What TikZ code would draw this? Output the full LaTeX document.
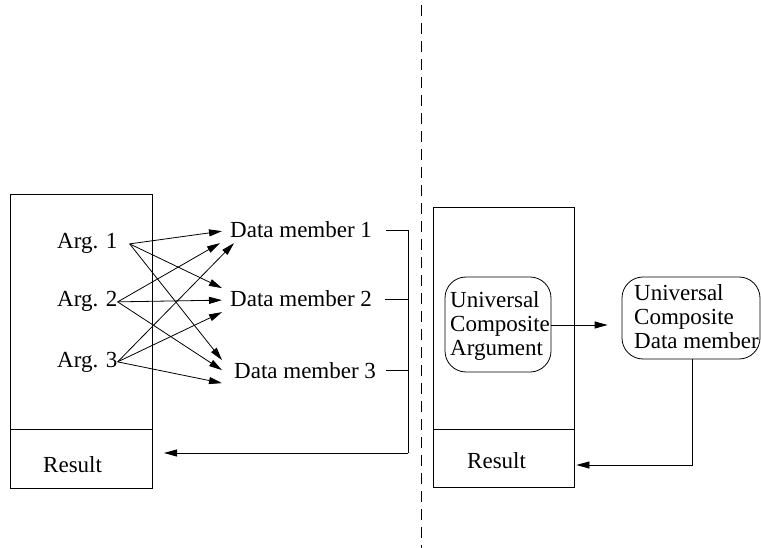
\documentclass[tikz,border=0pt]{standalone}
\usepackage{fontspec}
\setmainfont{Liberation Serif}
\usetikzlibrary{arrows.meta,calc}
\begin{document}
\begin{tikzpicture}[x=1pt,y=-1pt,
  every node/.style={inner sep=0pt,font=\fontsize{23}{24}\selectfont},
  lbl/.style={anchor=base west},
  box/.style={draw,line width=0.8pt},
  rbox/.style={draw,line width=0.8pt,rounded corners=21pt},
  ln/.style={line width=0.8pt},
  arr/.style={line width=0.8pt,-{Triangle[length=13pt,width=7pt]}}]
\useasboundingbox (0,0) rectangle (761,548);
% separator
\coordinate (sepT) at (421.5,5);
\coordinate (sepB) at (421.5,548);
\draw[line width=0.8pt,dash pattern=on 11pt off 7pt] (sepT) -- (sepB);
% left side boxes
\node[box,minimum width=142pt,minimum height=235pt] (ltop) at (81,311.5) {};
\node[box,minimum width=142pt,minimum height=59pt] (lres) at (81,458.5) {};
\node[lbl] (lrestxt) at (43,472) {Result};
% args
\node[lbl] (a1) at (57,249) {Arg. 1};
\node[lbl] (a2) at (57,307) {Arg. 2};
\node[lbl] (a3) at (57,367) {Arg. 3};
% data members
\node[lbl] (dm1) at (230,238) {Data member 1};
\node[lbl] (dm2) at (230,307) {Data member 2};
\node[lbl] (dm3) at (234,378) {Data member 3};
\coordinate (s1) at ($(a1.east)+(12,0)$);
\draw[arr] (s1) -- ($(dm1.west)+(-8,1)$);
\draw[arr] (s1) -- ($(dm2.west)+(-8,-11)$);
\draw[arr] (s1) -- ($(dm3.west)+(-12,-10)$);
\draw[arr] (a2.east) -- ($(dm1.west)+(-10,13)$);
\draw[arr] (a2.east) -- ($(dm2.west)+(-8,1)$);
\draw[arr] (a2.east) -- ($(dm3.west)+(-12,0)$);
\draw[arr] (a3.east) -- ($(dm1.west)+(4,13)$);
\draw[arr] (a3.east) -- ($(dm2.west)+(-8,13)$);
\draw[arr] (a3.east) -- ($(dm3.west)+(-12,13)$);
% bus
\coordinate (corner) at (408,453);
\coordinate (ltip) at (164,453);
\draw[ln] ($(dm1.east)+(14,0)$) -| (corner);
\draw[ln] ($(dm2.east)+(13,0)$) -- (dm2.east -| corner);
\draw[ln] ($(dm3.east)+(10,0)$) -- (dm3.east -| corner);
\draw[arr] (corner) -- (ltip);
% right side
\node[box,minimum width=141pt,minimum height=222pt] (rtop) at (503.5,318) {};
\node[box,minimum width=141pt,minimum height=58pt] (rres) at (503.5,458) {};
\node[lbl] (rrestxt) at (467,468) {Result};
\node[rbox,minimum width=106pt,minimum height=95pt] (uca) at (498,324.5) {};
\node[anchor=north west,align=left] (ucatxt) at (450,291.3) {Universal\\Composite\\Argument};
\node[rbox,minimum width=138pt,minimum height=82pt] (ucdm) at (691,318) {};
\node[anchor=north west,align=left] (ucdmtxt) at (634,284.3) {Universal\\Composite\\Data member};
\draw[arr] ($(uca.east)+(0,0.5)$) -- ($(ucdm.west)+(-14,7)$);
\draw[arr] ($(ucdm.south)+(1,0)$) |- ($(rres.east)+(2,7)$);
\end{tikzpicture}
\end{document}
